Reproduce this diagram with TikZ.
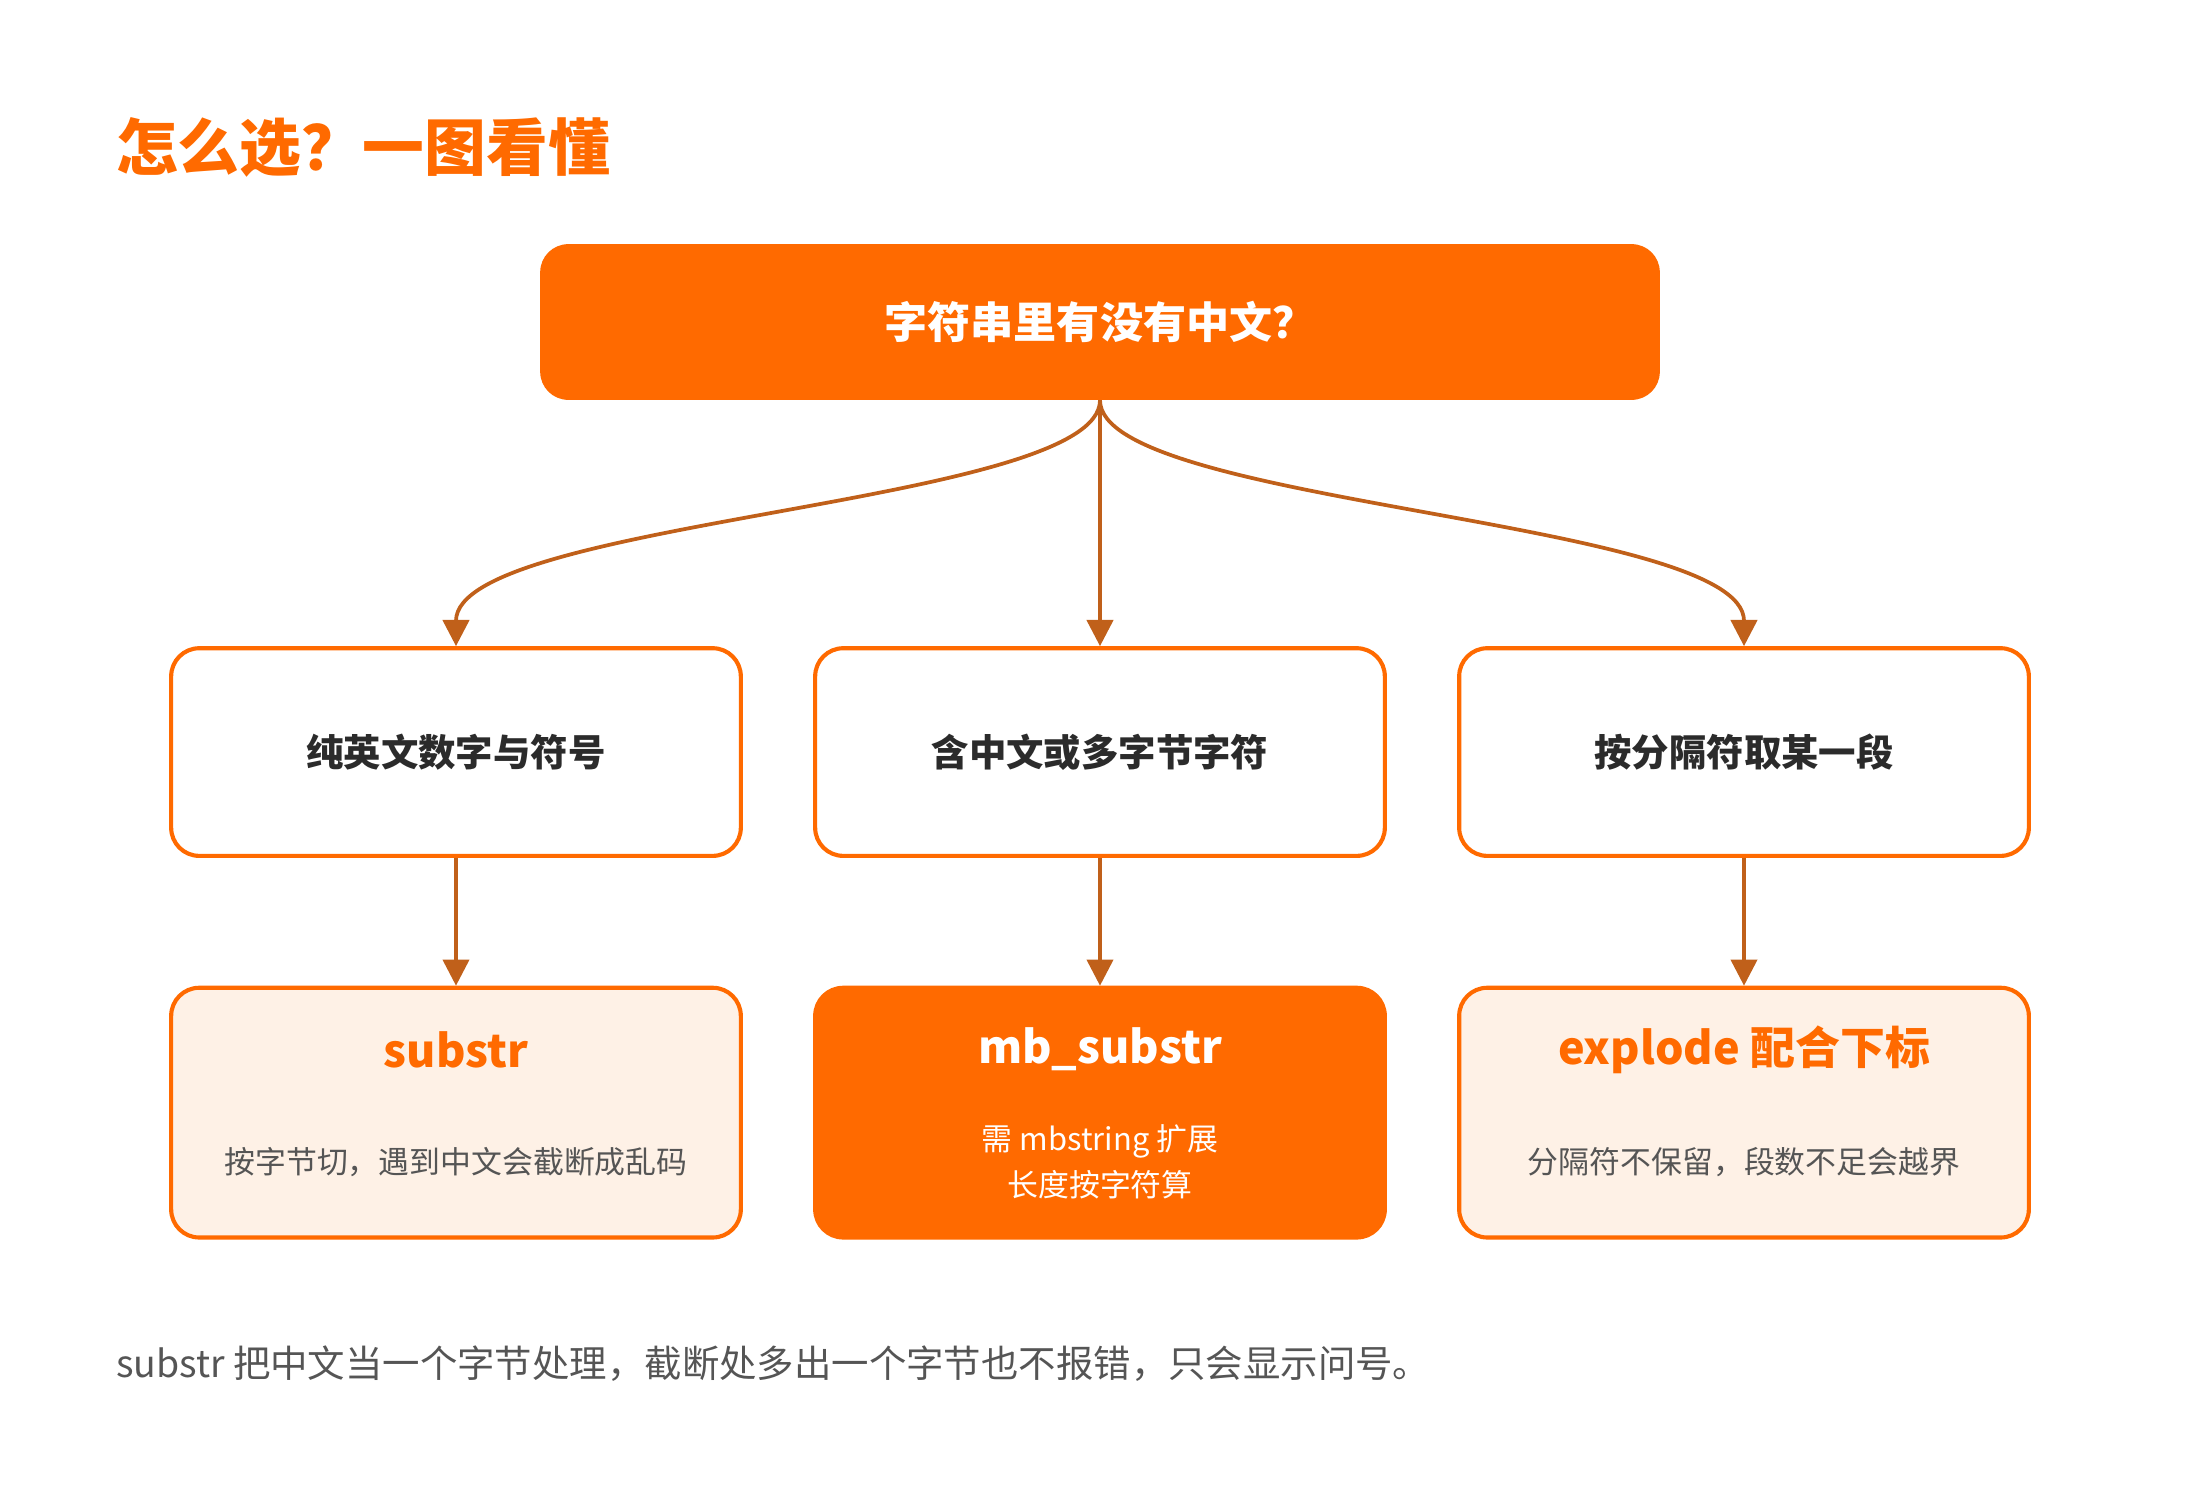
\documentclass[tikz,border=0pt]{standalone}
\usepackage{fontspec}
\setmainfont{Noto Sans CJK SC}
\usetikzlibrary{arrows.meta}
\definecolor{org}{HTML}{FF6A00}
\definecolor{arr}{HTML}{C0601A}
\definecolor{lite}{HTML}{FEF1E6}
\definecolor{dark}{HTML}{2B2B2B}
\definecolor{gr}{HTML}{555555}
\begin{document}
\begin{tikzpicture}[x=0.75pt,y=-0.75pt,
  box/.style={draw=org,line width=2.2pt,rounded corners=15pt,minimum width=406*0.75pt},
  mid/.style={box,fill=white,minimum height=148*0.75pt,font=\fontsize{20}{24}\selectfont\bfseries,text=dark},
  bot/.style={box,fill=lite,minimum height=178*0.75pt},
  con/.style={draw=arr,line width=2pt,-{Triangle[length=14pt,width=14pt]}}]
\useasboundingbox (0,0) rectangle (1568,1060);
\node[anchor=west,text=org,font=\fontsize{33}{38}\selectfont\bfseries] (title) at (78,105) {怎么选？一图看懂};
\node[fill=org,rounded corners=15pt,minimum width=798*0.75pt,minimum height=111*0.75pt,text=white,font=\fontsize{23}{28}\selectfont\bfseries] (top) at (784,229.5) {字符串里有没有中文？};
\node[mid] (m1) at (325,536) {纯英文数字与符号};
\node[mid] (m2) at (784,536) {含中文或多字节字符};
\node[mid] (m3) at (1243,536) {按分隔符取某一段};
\node[bot] (b1) at (325,793) {};
\node[bot,fill=org] (b2) at (784,793) {};
\node[bot] (b3) at (1243,793) {};
\node[text=org,font=\fontsize{24}{28}\selectfont\bfseries] (t1) at (325,748) {substr};
\node[text=gr,font=\fontsize{16.5}{20}\selectfont] (s1) at (325,828) {按字节切，遇到中文会截断成乱码};
\node[text=white,font=\fontsize{24}{28}\selectfont\bfseries] (t2) at (784,748) {mb\_substr};
\node[text=white,font=\fontsize{16.5}{24.5}\selectfont,align=center] (s2) at (784,828) {需 mbstring 扩展\\长度按字符算};
\node[text=org,font=\fontsize{24}{28}\selectfont\bfseries] (t3) at (1243,748) {explode 配合下标};
\node[text=gr,font=\fontsize{16.5}{20}\selectfont] (s3) at (1243,828) {分隔符不保留，段数不足会越界};
\node[anchor=west,text=gr,font=\fontsize{20}{24}\selectfont] (foot) at (78,972) {substr 把中文当一个字节处理，截断处多出一个字节也不报错，只会显示问号。};
\draw[con] (top.south) .. controls (784,360) and (325,370) .. (m1.north);
\draw[con] (top.south) -- (m2.north);
\draw[con] (top.south) .. controls (784,360) and (1243,370) .. (m3.north);
\draw[con] (m1.south) -- (b1.north);
\draw[con] (m2.south) -- (b2.north);
\draw[con] (m3.south) -- (b3.north);
\end{tikzpicture}
\end{document}
